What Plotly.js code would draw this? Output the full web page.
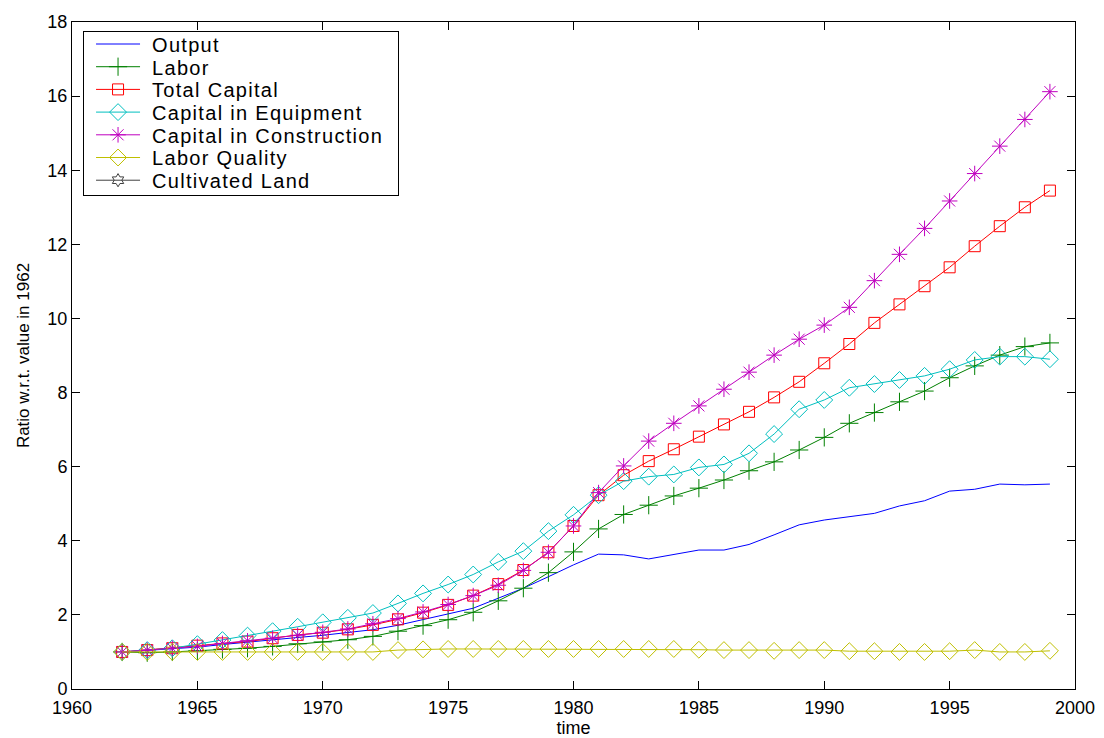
<!DOCTYPE html>
<html><head><meta charset="utf-8">
<script src="https://cdn.plot.ly/plotly-3.0.1.min.js"></script>
<style>html,body{margin:0;padding:0;background:#fff}#chart{width:1104px;height:738px}
.legendtext{letter-spacing:1.3px}</style>
</head><body><div id="chart"></div>
<script>
const years = [];
for (let y = 1962; y <= 1999; y++) years.push(y);

const output = [1.0,1.04,1.08,1.13,1.2,1.27,1.33,1.39,1.45,1.52,1.6,1.72,1.88,2.03,2.18,2.45,2.72,3.03,3.35,3.64,3.62,3.51,3.62,3.75,3.75,3.9,4.16,4.43,4.56,4.65,4.74,4.94,5.08,5.34,5.39,5.53,5.51,5.53];
const labor = [1.0,0.98,1.0,1.03,1.07,1.1,1.15,1.22,1.27,1.33,1.42,1.56,1.71,1.87,2.07,2.38,2.72,3.14,3.7,4.32,4.71,4.96,5.21,5.42,5.64,5.89,6.13,6.45,6.79,7.17,7.46,7.75,8.04,8.4,8.72,9.01,9.24,9.34];
const totalCapital = [1.0,1.05,1.1,1.17,1.23,1.28,1.37,1.46,1.52,1.61,1.73,1.88,2.06,2.27,2.52,2.83,3.21,3.69,4.4,5.23,5.77,6.15,6.47,6.81,7.14,7.48,7.87,8.29,8.79,9.31,9.88,10.38,10.87,11.38,11.95,12.49,13.0,13.45];
const capEquipment = [1.0,1.05,1.1,1.21,1.32,1.44,1.56,1.68,1.8,1.92,2.05,2.31,2.58,2.82,3.09,3.43,3.72,4.26,4.7,5.23,5.61,5.73,5.79,5.98,6.06,6.36,6.88,7.55,7.8,8.13,8.23,8.34,8.45,8.63,8.88,8.97,8.97,8.9];
const capConstruction = [1.0,1.05,1.1,1.15,1.23,1.3,1.37,1.45,1.53,1.62,1.76,1.9,2.08,2.28,2.52,2.8,3.2,3.69,4.4,5.3,6.02,6.69,7.17,7.64,8.09,8.55,9.01,9.44,9.82,10.3,11.02,11.73,12.43,13.17,13.91,14.65,15.37,16.12];
const laborQuality = [1.0,1.0,1.0,1.0,1.0,1.0,1.0,1.0,1.0,1.0,1.0,1.05,1.07,1.08,1.08,1.08,1.08,1.08,1.08,1.08,1.08,1.08,1.08,1.06,1.05,1.05,1.03,1.05,1.05,1.02,1.02,1.0,1.0,1.02,1.05,1.0,1.0,1.03];
const cultivatedLand = years.map(() => null);

const xTicks = [1960,1965,1970,1975,1980,1985,1990,1995,2000];
const yTicks = [0,2,4,6,8,10,12,14,16,18];

function tr(name, y, color, symbol, size, mode) {
  return {x: years, y: y, name: name, type: 'scatter', mode: mode || 'lines+markers',
    line: {color: color, width: 1},
    marker: {symbol: symbol, size: size, color: color, line: {color: color, width: 1}}};
}

const data = [
  tr('Output', output, '#0000ff', 'circle', 1, 'lines'),
  tr('Labor', labor, '#008000', 'cross-thin-open', 13),
  tr('Total Capital', totalCapital, '#ff0000', 'square-open', 11),
  tr('Capital in Equipment', capEquipment, '#00bfbf', 'diamond-open', 13),
  tr('Capital in Construction', capConstruction, '#bf00bf', 'asterisk-open', 13),
  tr('Labor Quality', laborQuality, '#bfbf00', 'diamond-open', 13),
  tr('Cultivated Land', cultivatedLand, '#404040', 'hexagram-open', 10)
];

const FF = 'Arial, Liberation Sans, sans-serif';
const axisFont = {family: FF, size: 18, color: '#000'};
const layout = {
  width: 1104, height: 738,
  margin: {l: 72, r: 29, t: 22, b: 49},
  paper_bgcolor: '#fff', plot_bgcolor: '#fff',
  font: axisFont,
  showlegend: true,
  legend: {x: 0.011, y: 0.9865, xanchor: 'left', yanchor: 'top', bgcolor: '#fff',
    bordercolor: '#000', borderwidth: 1, font: {family: FF, size: 20, color: '#000'},
    tracegroupgap: 0, itemwidth: 44},
  xaxis: {range: [1960, 2000], tickvals: xTicks, ticktext: xTicks.map(String),
    ticks: 'inside', ticklen: 8, tickcolor: '#000', showline: true, linecolor: '#000', mirror: 'ticks',
    showgrid: false, zeroline: false, tickfont: axisFont, ticklabelstandoff: 2,
    title: {text: 'time', font: {family: FF, size: 18, color: '#000'}, standoff: 5}},
  yaxis: {range: [0, 18], tickvals: yTicks, ticktext: yTicks.map(String),
    ticks: 'inside', ticklen: 8, tickcolor: '#000', showline: true, linecolor: '#000', mirror: 'ticks',
    showgrid: false, zeroline: false, tickfont: axisFont,
    title: {text: 'Ratio w.r.t. value in 1962', font: {family: FF, size: 17, color: '#000'}, standoff: 13}}
};

Plotly.newPlot('chart', data, layout, {displayModeBar: false, staticPlot: true}).then(function (gd) {
  // compact the legend rows to match the reference spacing
  const leg = gd.querySelector('g.legend');
  if (!leg) return;
  const items = leg.querySelectorAll('g.traces');
  items.forEach(function (t, i) {
    t.setAttribute('transform', 'translate(8,' + (13 + i * 22.7) + ')');
    const txt = t.querySelector('text.legendtext');
    if (txt) {
      const x0 = parseFloat(txt.getAttribute('x')) || 0;
      txt.setAttribute('x', x0 + 7);
    }
  });
  const bg = leg.querySelector('rect.bg');
  if (bg) { bg.setAttribute('width', 315); bg.setAttribute('height', 164); }
  const sb = leg.querySelector('g.scrollbox');
  if (sb) sb.removeAttribute('clip-path');
});
</script></body></html>
